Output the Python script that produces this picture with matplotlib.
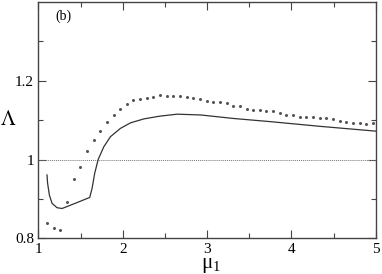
import matplotlib
matplotlib.use('Agg')
import matplotlib.pyplot as plt
import numpy as np

plt.rcParams['font.family'] = ['Liberation Serif', 'DejaVu Serif']
plt.rcParams['mathtext.fontset'] = 'stix'

# punkty (symbole)
mu_dots = np.linspace(1.103, 4.964, 50)
lam_dots = [0.840, 0.826, 0.822, 0.892, 0.951, 0.982, 1.022, 1.049, 1.073, 1.096,
            1.113, 1.129, 1.140, 1.150, 1.153, 1.156, 1.159, 1.163, 1.161, 1.161,
            1.160, 1.159, 1.156, 1.153, 1.149, 1.147, 1.147, 1.144, 1.135, 1.135,
            1.129, 1.126, 1.126, 1.122, 1.122, 1.117, 1.114, 1.114, 1.109, 1.108,
            1.107, 1.105, 1.105, 1.103, 1.097, 1.094, 1.093, 1.092, 1.089, 1.092]

# krzywa ciagla
mu_line = [1.103, 1.110, 1.131, 1.163, 1.222, 1.281, 1.341, 1.459, 1.609, 1.637,
           1.668, 1.709, 1.775, 1.855, 1.973, 2.092, 2.250, 2.440, 2.646, 2.923,
           3.318, 3.754, 4.347, 5.0]
lam_line = [0.961, 0.940, 0.910, 0.889, 0.878, 0.876, 0.881, 0.891, 0.904, 0.927,
            0.965, 1.000, 1.032, 1.058, 1.079, 1.093, 1.103, 1.110, 1.115, 1.113,
            1.104, 1.096, 1.084, 1.072]

fig = plt.figure(figsize=(3.82, 2.74), dpi=100)
ax = fig.add_axes([0.1003, 0.1296, 0.8837, 0.8642])

ax.axhline(1.0, color='#777777', lw=0.7, ls=(0, (1, 1)))
ax.plot(mu_line, lam_line, color='#333333', lw=0.9)
ax.plot(mu_dots, lam_dots, ls='none', marker='o', ms=2.2, color='#555555', mec='none')

ax.set_xlim(1, 5)
ax.set_ylim(0.8, 1.4)
ax.set_xticks([1, 2, 3, 4, 5])
ax.set_xticks([1.5, 2.5, 3.5, 4.5], minor=True)
ax.set_yticks([0.8, 1.0, 1.2])
ax.set_yticklabels(['0.8', '1', '1.2'])
ax.set_yticks([0.9, 1.1, 1.3], minor=True)
ax.tick_params(which='both', direction='in', top=True, right=True, labelsize=11,
               color='#444444', width=0.8)
ax.tick_params(which='major', length=6, pad=3)
ax.tick_params(which='minor', length=3.5)
for s in ax.spines.values():
    s.set_color('#444444')
    s.set_linewidth(1.0)

# etykiety osi
ax.text(-0.09, 0.50, r'$\Lambda$', transform=ax.transAxes, fontsize=15,
        ha='center', va='center')
ax.text(0.51, -0.112, r'$\mathregular{\mu_1}$', transform=ax.transAxes, fontsize=15,
        ha='center', va='center')
ax.text(0.05, 0.925, '(b)', transform=ax.transAxes, fontsize=10)

fig.savefig('out.png', dpi=100)
